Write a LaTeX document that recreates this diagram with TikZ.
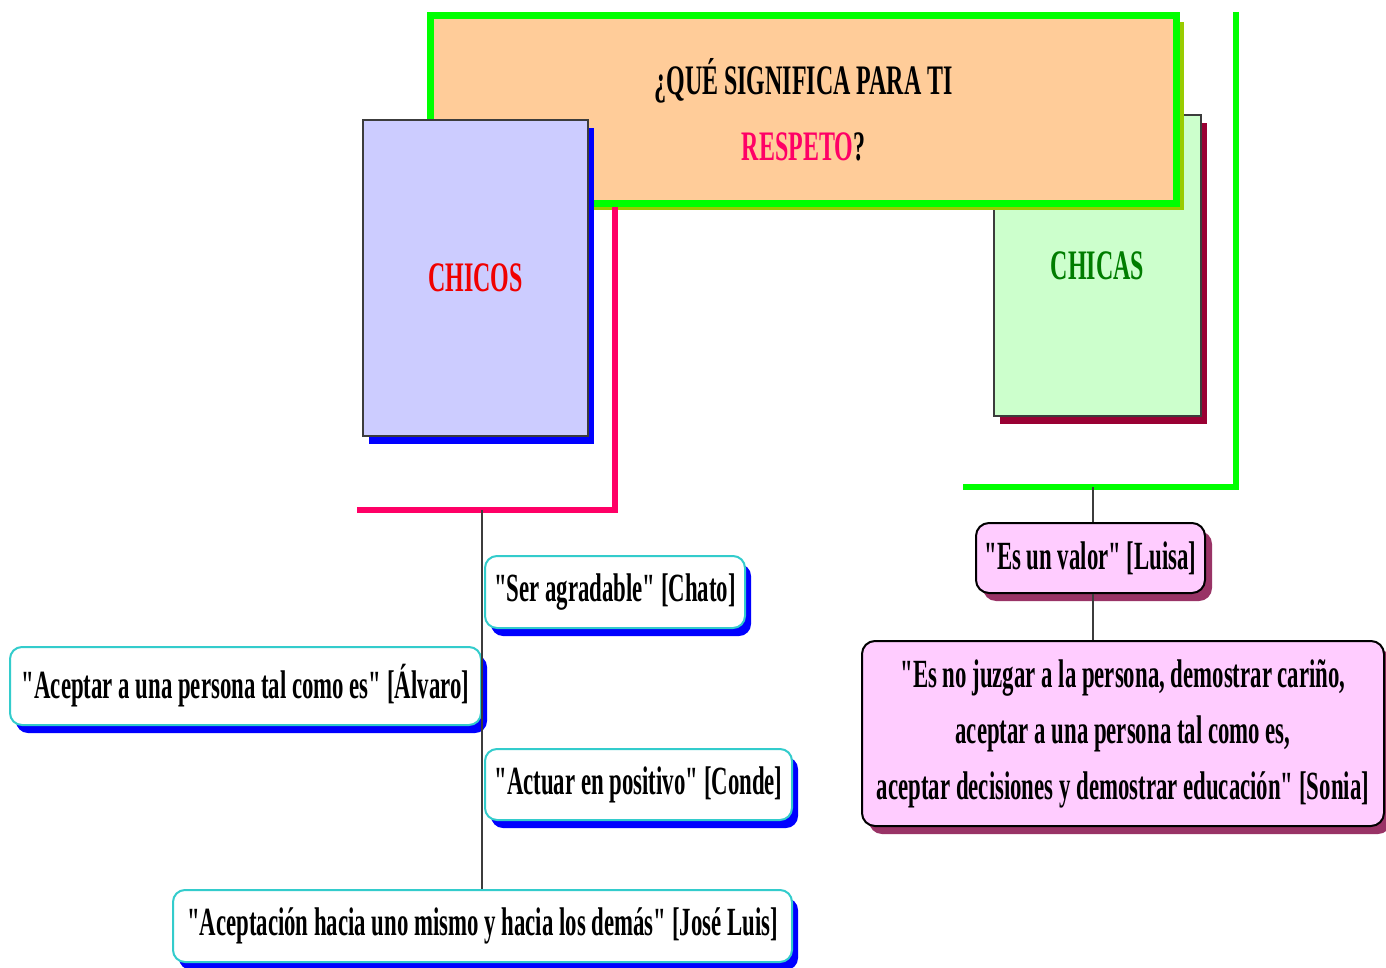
\documentclass[tikz,border=0pt]{standalone}
\usepackage{fontspec}
\newfontfamily\cf{Liberation Serif}[FakeStretch=0.57]
\usetikzlibrary{shadows}
\definecolor{orangefill}{RGB}{255,204,153}
\definecolor{lavender}{RGB}{204,204,255}
\definecolor{lightgreen}{RGB}{204,255,204}
\definecolor{pinkfill}{RGB}{255,204,255}
\definecolor{pinkline}{RGB}{255,0,102}
\definecolor{brightgreen}{RGB}{0,255,0}
\definecolor{olive}{RGB}{153,204,0}
\definecolor{darkred}{RGB}{153,0,51}
\definecolor{plum}{RGB}{153,51,102}
\definecolor{tealborder}{RGB}{51,204,204}
\definecolor{chicasgreen}{RGB}{0,125,0}
\definecolor{chicosred}{RGB}{240,0,0}
\definecolor{boxborder}{RGB}{60,60,60}
\begin{document}
\begin{tikzpicture}[x=1pt,y=-1pt,
  txt/.style={font=\cf\bfseries\fontsize{40}{56}\selectfont},
  bigbox/.style={draw=boxborder, line width=1.5pt, inner sep=0pt, font=\cf\bfseries\fontsize{42}{50}\selectfont},
  quote/.style={draw=tealborder, line width=2pt, fill=white, rounded corners=12pt,
    inner sep=0pt, txt, drop shadow={shadow xshift=6pt, shadow yshift=-8pt, fill=blue, opacity=1}},
  pinkq/.style={draw=black, line width=2pt, fill=pinkfill, rounded corners=13pt,
    inner sep=0pt, txt, drop shadow={shadow xshift=7pt, shadow yshift=-8pt, fill=plum, opacity=1}},
  thick line/.style={line width=6pt},
  thin line/.style={draw=boxborder, line width=1.2pt}]
\useasboundingbox (0,0) rectangle (1386,968);
\fill[white] (0,0) rectangle (1386,968);

% CHICAS box (behind title)
\node[bigbox, fill=lightgreen, minimum width=207pt, minimum height=301pt,
  drop shadow={shadow xshift=6pt, shadow yshift=-8pt, fill=darkred, opacity=1},
  text=chicasgreen] (chicas) at (1097.5,265.5) {CHICAS};

% title box
\node[draw=brightgreen, line width=7pt, fill=orangefill, minimum width=746pt, minimum height=188pt,
  inner sep=0pt, align=center, font=\cf\bfseries\fontsize{42}{66}\selectfont,
  drop shadow={shadow xshift=7pt, shadow yshift=-7pt, fill=olive, opacity=1}]
  (title) at (803.5,109.5) {¿QUÉ SIGNIFICA PARA TI\\\textcolor{pinkline}{RESPETO}?};

% CHICOS box (in front of title)
\node[bigbox, fill=lavender, minimum width=225pt, minimum height=316pt,
  drop shadow={shadow xshift=6pt, shadow yshift=-8pt, fill=blue, opacity=1},
  text=chicosred] (chicos) at (475.5,278) {CHICOS};

% bracket lines
\coordinate (pinktop) at (615,207);
\coordinate (pinkcorner) at (615,510);
\coordinate (pinkend) at (357,510);
\coordinate (cj) at (482,510);
\draw[thick line, draw=pinkline] (pinktop) -- (pinkcorner) -- (pinkend);

\coordinate (greentop) at (1236,12);
\coordinate (greencorner) at (1236,487);
\coordinate (greenend) at (963,487);
\coordinate (gj) at (1093,487);
\draw[thick line, draw=brightgreen] (greentop) -- (greencorner) -- (greenend);

% quote boxes
\node[quote, minimum width=260pt, minimum height=72pt] (chato) at (615,592) {"Ser agradable" [Chato]};
\node[quote, minimum width=471pt, minimum height=78pt] (alvaro) at (245.5,686) {"Aceptar a una persona tal como es" [Álvaro]};
\node[quote, minimum width=307pt, minimum height=71pt] (conde) at (638.5,784.5) {"Actuar en positivo" [Conde]};
\node[quote, minimum width=619pt, minimum height=72pt] (jose) at (482.5,926) {"Aceptación hacia uno mismo y hacia los demás" [José Luis]};

\node[pinkq, minimum width=229pt, minimum height=70pt] (luisa) at (1090.5,558) {"Es un valor" [Luisa]};
\node[pinkq, minimum width=522pt, minimum height=185pt, align=center] (sonia) at (1123,733.5)
  {"Es no juzgar a la persona, demostrar cariño,\\aceptar a una persona tal como es,\\aceptar decisiones y demostrar educación" [Sonia]};

% thin connectors
\draw[thin line] (cj) -- (cj |- jose.north);
\draw[thin line] (gj) -- (gj |- luisa.north);
\draw[thin line] (gj |- luisa.south) -- (gj |- sonia.north);
\end{tikzpicture}
\end{document}
